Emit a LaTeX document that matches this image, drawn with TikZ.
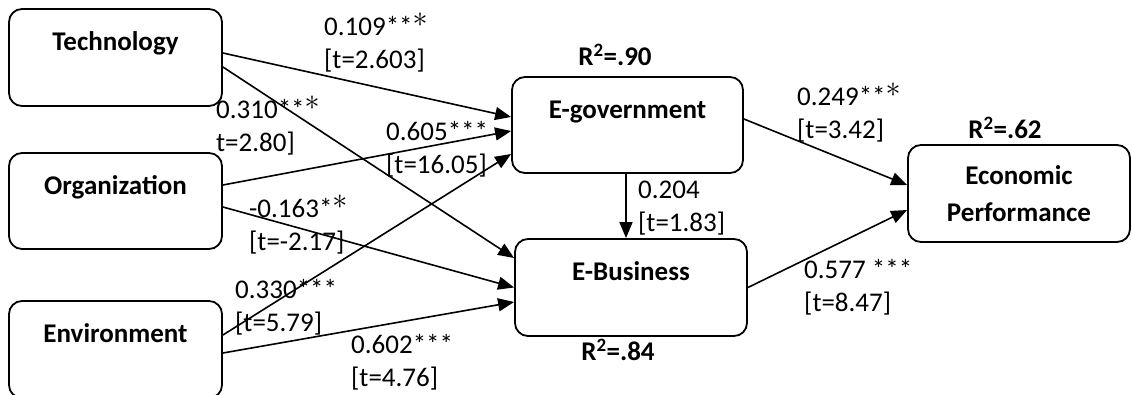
\documentclass[tikz,border=0pt]{standalone}
\usepackage{fontspec}
\setmainfont{Carlito}
\newfontfamily\lmfont{lmroman10-regular.otf}
\usetikzlibrary{arrows.meta,calc}
% thin six-pointed asterisk used for some significance marks
\newcommand\lstar{{\lmfont\fontsize{30}{30}\selectfont *}}

\begin{document}
\begin{tikzpicture}[x=1pt,y=-1pt,
  box/.style={draw, line width=1.8pt, rounded corners=13pt, inner sep=0pt,
    font=\fontsize{27}{32}\selectfont\bfseries, text height=18pt, text depth=32pt},
  econbox/.style={draw, line width=1.8pt, rounded corners=13pt, inner sep=0pt,
    align=center, font=\fontsize{27}{37}\selectfont\bfseries},
  coef/.style={anchor=base west, inner sep=0pt, align=left,
    font=\fontsize{27}{33}\selectfont},
  rsq/.style={inner sep=0pt, font=\fontsize{27}{32}\selectfont\bfseries},
  link/.style={line width=1.6pt, -{Triangle[length=16pt,width=13pt]}},
]
\useasboundingbox (0,0) rectangle (1132,394);
\clip (0,0) rectangle (1132,394);

% constructs
\node[box, minimum width=213pt, minimum height=97pt] (tech) at (115.5,57.5) {Technology};
\node[box, minimum width=213pt, minimum height=96pt] (org)  at (115.5,201)  {Organization};
\node[box, minimum width=213pt, minimum height=97pt] (env)  at (115.5,349.5) {Environment};
\node[box, minimum width=231pt, minimum height=96pt] (egov) at (627.5,125)  {E-government};
\node[box, minimum width=232pt, minimum height=97pt] (ebus) at (631,287.5)  {E-Business};
\node[econbox, minimum width=222pt, minimum height=97pt] (econ) at (1019,193.5) {Economic\\Performance};

% explained variance
\node[rsq] (r90) at (615,55)  {R\textsuperscript{2}=.90};
\node[rsq] (r84) at (618,350) {R\textsuperscript{2}=.84};
\node[rsq] (r62) at (1005,128) {R\textsuperscript{2}=.62};

% paths
\draw[link] ([yshift=4.5pt]tech.east) -- ([yshift=8pt]egov.west);
\draw[link] ([yshift=-9.5pt]tech.east) -- ([yshift=29.5pt]ebus.west);
\draw[link] ([yshift=16pt]org.east) -- ([yshift=-6pt]egov.west);
\draw[link] ([yshift=-6pt]org.east) -- (ebus.west);
\draw[link] ([yshift=14.5pt]env.east) -- ([yshift=-29pt]egov.west);
\draw[link] ([yshift=-3.5pt]env.east) -- ([yshift=-14.5pt]ebus.west);
\draw[link] ([xshift=-1.5pt]egov.south) -- ([xshift=-1.5pt]egov.south |- ebus.north);
\draw[link] ([yshift=6pt]egov.east) -- ([yshift=8.5pt]econ.west);
\draw[link] (ebus.east) -- ([yshift=-16.5pt]econ.west);

% path coefficients (anchored at the baseline of the second line)
\node[coef] (c1) at (324,68)  {0.109**\lstar\\{[}t=2.603{]}};
\node[coef] (c2) at (216,151) {0.310**\lstar\\t=2.80{]}};
\node[coef] (c3) at (386,173) {0.605***\\{[}t=16.05{]}};
\node[coef] (c4) at (249,250) {-0.163*\lstar\\{[}t=-2.17{]}};
\node[coef] (c5) at (235,331) {0.330***\\{[}t=5.79{]}};
\node[coef] (c6) at (351,386) {0.602***\\{[}t=4.76{]}};
\node[coef] (c7) at (638,231) {0.204\\{[}t=1.83{]}};
\node[coef] (c8) at (804,311) {0.577 ***\\{[}t=8.47{]}};
\node[coef] (c9) at (797,138) {0.249**\lstar\\{[}t=3.42{]}};
\end{tikzpicture}
\end{document}
